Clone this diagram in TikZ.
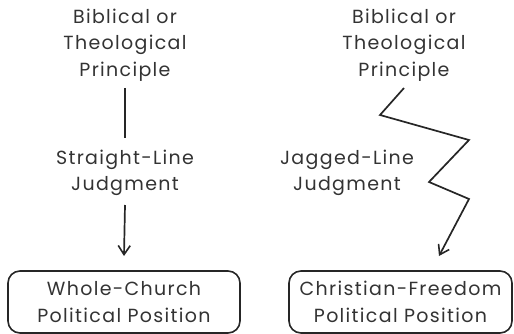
\documentclass[tikz,border=0pt]{standalone}
\usepackage{fontspec}
\setmainfont[LetterSpace=7]{Poppins}
\usetikzlibrary{arrows.meta}
\begin{document}
\begin{tikzpicture}[x=1pt,y=-1pt,
  txt/.style={align=center,font=\fontsize{19}{26.5}\selectfont,text=black!80,inner sep=0pt},
  conn/.style={line width=1.7pt,black!85},
  posbox/.style={txt,draw=black!85,line width=1.6pt,rounded corners=12pt,minimum height=62pt},
  tip/.style={-{Straight Barb[length=9pt,width=12pt,line width=1.6pt]}}]
\useasboundingbox (0,0) rectangle (514,334);
\node[txt] (lt) at (125,45) {Biblical or\\Theological\\Principle};
\node[txt] (ll) at (125,173) {Straight-Line\\Judgment};
\node[posbox,minimum width=232pt] (lb) at (124,302) {Whole-Church\\Political Position};
\node[txt] (rt) at (404,45) {Biblical or\\Theological\\Principle};
\node[txt] (rl) at (347,173) {Jagged-Line\\Judgment};
\node[posbox,minimum width=223pt] (rb) at (400.5,302) {Christian-Freedom\\Political Position};
\coordinate (s) at (404,88);
\coordinate (j1) at (380,115);
\coordinate (j2) at (469,140);
\coordinate (j3) at (429,182);
\coordinate (j4) at (469,199);
\coordinate (e) at (439,256);
\draw[conn] (lt.south |- s) -- (ll.north |- 0,138);
\draw[conn,tip] (ll.south |- 0,205) -- (lb.north |- 0,256);
\draw[conn,tip,line join=miter] (s) -- (j1) -- (j2) -- (j3) -- (j4) -- (e);
\end{tikzpicture}
\end{document}
